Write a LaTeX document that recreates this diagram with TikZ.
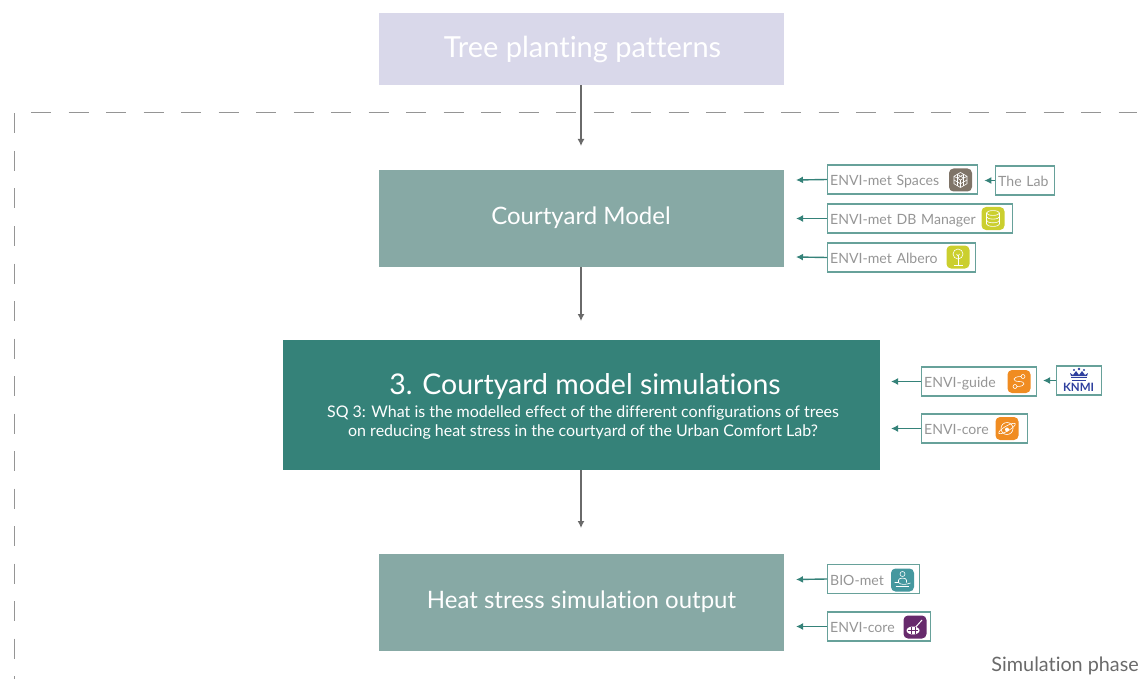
\documentclass[tikz,border=0pt]{standalone}
\usepackage{fontspec}
\setmainfont[Ligatures={NoCommon,NoContextual}]{Lato}
\usetikzlibrary{arrows.meta}
\definecolor{lilac}{HTML}{D9D8EA}
\definecolor{sage}{HTML}{87A9A5}
\definecolor{pine}{HTML}{358279}
\definecolor{toolgrey}{HTML}{959595}
\definecolor{flow}{HTML}{6A6A6A}
\definecolor{spacesbrown}{HTML}{7F7468}
\definecolor{limeicon}{HTML}{CBCF2E}
\definecolor{orangeicon}{HTML}{F08C21}
\definecolor{tealicon}{HTML}{45989F}
\definecolor{plumicon}{HTML}{672A6C}
\definecolor{knmiblue}{HTML}{2E3F9E}
\tikzset{
  phase/.style={fill=#1,text=white,minimum width=405pt,minimum height=97pt,inner sep=0pt,align=center},
  toolbox/.style={draw=pine!75,line width=1.3pt,anchor=west,inner xsep=2.5pt,inner ysep=0pt,minimum height=29pt,
    text=toolgrey,text height=13pt,text depth=1pt,font=\fontsize{14.1}{17}\selectfont,align=left},
  icon/.style={fill=#1,rounded corners=4.5pt,minimum size=23pt,inner sep=0pt},
  glyph/.style={white,line width=0.6pt},
  flowline/.style={flow,line width=1.3pt,-{Latex[length=7pt,width=7pt]}},
  toolline/.style={pine,line width=1.4pt,-{Latex[length=7pt,width=7pt]}},
  border/.style={toolgrey,line width=1pt,dash pattern=on 20pt off 17.5pt}
}
\begin{document}
\begin{tikzpicture}[x=1pt,y=-1pt]
\useasboundingbox (0,0) rectangle (1140,679);

% dashed frame
\coordinate (frameA) at (31,112.5);
\coordinate (frameB) at (1137,112.5);
\coordinate (frameC) at (14.5,113.5);
\coordinate (frameD) at (14.5,679);
\draw[border] (frameA) -- (frameB);
\draw[border] (frameC) -- (frameD);
\node[anchor=east,text=flow,font=\fontsize{19.8}{23}\selectfont,inner sep=0pt] (simphase) at (1139,665.5) {Simulation phase};

% main steps
\node[phase=lilac,minimum height=72pt] (patterns) at (581.5,49) {};
\node[text=white,font=\fontsize{29}{34}\selectfont,inner sep=0pt] (patternstext) at (582.5,49) {Tree planting patterns};
\node[phase=sage] (model) at (581.5,218.5) {};
\node[text=white,font=\fontsize{24}{28}\selectfont,inner sep=0pt] (modeltext) at (581,217.5) {Courtyard Model};
\node[phase=pine,minimum width=597pt,minimum height=130pt] (simulations) at (581.5,405) {};
\node[text=white,font=\fontsize{28.5}{34}\selectfont,inner sep=0pt] (simtitle) at (585,386.5) {3. Courtyard model simulations};
\node[text=white,font=\fontsize{16}{19}\selectfont,inner sep=0pt,align=center] (simtext) at (583,422.5)
  {SQ 3: What is the modelled effect of the different configurations of trees\\
   on reducing heat stress in the courtyard of the Urban Comfort Lab?};
\node[phase=sage] (output) at (581.5,602.5) {};
\node[text=white,font=\fontsize{24}{28}\selectfont,inner sep=0pt] (outputtext) at (581.5,601.5) {Heat stress simulation output};

\coordinate (modeltop) at (581,146);
\coordinate (simtop) at (581,321);
\coordinate (outputtop) at (581,528);
\draw[flowline] (patterns.south -| modeltop) -- (modeltop);
\draw[flowline] (model.south -| simtop) -- (simtop);
\draw[flowline] (simulations.south -| outputtop) -- (outputtop);

% tool boxes
\node[toolbox,text width=145pt] (spaces) at (827,179.5) {ENVI-met Spaces};
\node[toolbox,text width=53.5pt] (lab) at (995,180.5) {The Lab};
\node[toolbox,text width=180pt] (db) at (827,218.5) {ENVI-met DB Manager};
\node[toolbox,text width=143pt] (albero) at (827,257.5) {ENVI-met Albero};
\node[toolbox,text width=110pt] (guide) at (921,381.5) {ENVI-guide};
\node[toolbox,minimum width=45pt,inner xsep=0pt] (knmi) at (1056,380.5) {};
\node[toolbox,text width=101pt] (core) at (921,428.5) {ENVI-core};
\node[toolbox,text width=87pt] (biomet) at (827,579) {BIO-met};
\node[toolbox,text width=98pt] (coreout) at (827,626.5) {ENVI-core};

\foreach \name/\yy in {spaces/180,db/218.5,albero/257,biomet/579.5,coreout/626.5}
  \draw[toolline] (\name.west) -- (796,\yy);
\foreach \name/\yy in {guide/381.5,core/428.5}
  \draw[toolline] (\name.west) -- (891,\yy);
\draw[toolline,shorten >=6pt] (lab.west) -- (spaces.east |- lab.west);
\draw[toolline] (knmi.west) -- (1043,380.5);

% icons
\node[icon=spacesbrown] (iconspaces) at (960.5,180) {};
\begin{scope}[shift={(iconspaces)},glyph]
\draw (0,-7.5) -- (6.5,-3.75) -- (6.5,3.75) -- (0,7.5) -- (-6.5,3.75) -- (-6.5,-3.75) -- cycle;
\draw (-6.5,-3.75) -- (0,0) -- (6.5,-3.75);
\draw (0,0) -- (0,7.5);
\foreach \a in {-3.25,3.25} {
\draw (\a,-5.6) -- (\a,5.6);
}
\draw (-6.5,0) -- (0,3.75) -- (6.5,0);
\draw (-3.25,-5.6) -- (3.25,-1.9);
\draw (3.25,-5.6) -- (-3.25,-1.9);
\end{scope}

\node[icon=limeicon] (icondb) at (993,218.5) {};
\begin{scope}[shift={(icondb)},glyph]
\draw (0,-5.5) ellipse (6.5pt and 2.4pt);
\draw (-6.5,-5.5) -- (-6.5,5.5) arc (180:360:6.5pt and 2.4pt) -- (6.5,-5.5);
\draw (-6.5,-1.8) arc (180:360:6.5pt and 2.4pt);
\draw (-6.5,1.9) arc (180:360:6.5pt and 2.4pt);
\end{scope}

\node[icon=limeicon] (iconalbero) at (958,257) {};
\begin{scope}[shift={(iconalbero)},glyph]
\draw (0,-3) circle (5pt);
\draw (-1.5,-3) -- (0,-1) -- (1.5,-3);
\draw (0,-1) -- (0,8);
\draw (-4.5,8) -- (4.5,8);
\end{scope}

\node[icon=orangeicon] (iconguide) at (1019,381.5) {};
\begin{scope}[shift={(iconguide)},glyph]
\draw (4,-5) circle (2pt);
\draw (-4,5) circle (2pt);
\draw (2,-5) .. controls (-7,-5) and (-7,0) .. (0,0) .. controls (7,0) and (7,5) .. (-2,5);
\end{scope}

\node[icon=orangeicon] (iconcore) at (1007,428.5) {};
\begin{scope}[shift={(iconcore)},glyph]
\draw (0,0) circle (6pt);
\draw[rotate=30] (0,0) ellipse (9.5pt and 2.5pt);
\fill (0,1) circle (2pt);
\end{scope}

\node[icon=tealicon] (iconbio) at (902.5,580) {};
\begin{scope}[shift={(iconbio)},glyph]
\draw (0,-6) circle (2.5pt);
\draw (-4,2.5) -- (-4,0) .. controls (-4,-2.5) and (4,-2.5) .. (4,0) -- (4,2.5);
\draw (-8,2.5) -- (-4,2.5) .. controls (-2,5) and (3,5) .. (8,3);
\draw (-7,6.5) -- (6,6.5);
\end{scope}

\node[icon=plumicon] (iconcoreout) at (915,627) {};
\begin{scope}[shift={(iconcoreout)},glyph]
\fill (-2,3.5) ellipse (6.5pt and 4pt);
\draw[line width=1pt] (-1,2) -- (7,-7);
\draw[plumicon,line width=0.5pt] (-7,3.5) -- (3,3.5);
\draw[plumicon,line width=0.5pt] (-4,0) -- (-4,7);
\draw[plumicon,line width=0.5pt] (0,0) -- (0,7);
\end{scope}

% knmi mark
\node[text=knmiblue,font=\fontsize{11.5}{13}\bfseries\selectfont,inner sep=0pt] (knmitext) at (1078.5,387.5) {KNMI};
\begin{scope}[shift={(1079,374)},knmiblue]
\fill (-7,5.5) rectangle (7,7);
\fill (-8,2.5) rectangle (8,4);
\fill (-9,-1) -- (-6,1) -- (-3,-3) -- (0,1) -- (3,-3) -- (6,1) -- (9,-1) -- (8,2) -- (-8,2) -- cycle;
\fill (0,-5) circle (1.4pt);
\fill (-5,-4) circle (1.1pt);
\fill (5,-4) circle (1.1pt);
\end{scope}

\end{tikzpicture}
\end{document}
